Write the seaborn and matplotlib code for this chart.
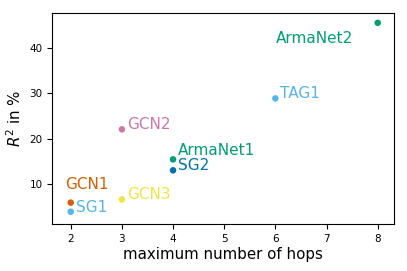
import pandas as pd
import seaborn as sns
import matplotlib.pyplot as plt

models = ['GCN1', 'SG1', 'GCN2', 'GCN3', 'ArmaNet1', 'SG2', 'TAG1', 'ArmaNet2']
hops = [2, 2, 3, 3, 4, 4, 6, 8]
r2 = [6.0, 4.0, 22.1, 6.7, 15.5, 13.1, 28.9, 45.5]
colors = ['#D55E00', '#56B4E9', '#CC79A7', '#F0E442', '#009E73', '#0072B2', '#56B4E9', '#009E73']
# label offsets (data units) relative to each point
dx = [-0.1, 0.1, 0.1, 0.1, 0.1, 0.1, 0.1, -2.0]
dy = [3.0, 0.0, 0.0, 0.0, 1.0, 0.0, 0.0, -4.5]


def main():
    df = pd.DataFrame({'model': models, 'hops': hops, 'r2': r2})
    palette = dict(zip(models, colors))

    fig = plt.figure(figsize=(4.07, 2.71), dpi=100)
    ax = fig.add_axes([0.1285, 0.1734, 0.8385, 0.7776])
    sns.scatterplot(data=df, x='hops', y='r2', hue='model', palette=palette,
                    s=22, linewidth=0, legend=False, ax=ax)

    for m, x, y, ox, oy, c in zip(models, hops, r2, dx, dy, colors):
        ax.text(x + ox, y + oy, m, color=c, fontsize=11)

    ax.set_xlim(1.64, 8.31)
    ax.set_ylim(1.3, 47.6)
    ax.set_xticks(range(2, 9))
    ax.set_yticks([10, 20, 30, 40])
    ax.tick_params(labelsize=7.5)
    ax.set_xlabel('maximum number of hops', fontsize=10.8, labelpad=2)
    ax.set_ylabel('$R^2$ in %', fontsize=10.8, labelpad=4)

    fig.savefig('out.png', dpi=100)


if __name__ == '__main__':
    main()
